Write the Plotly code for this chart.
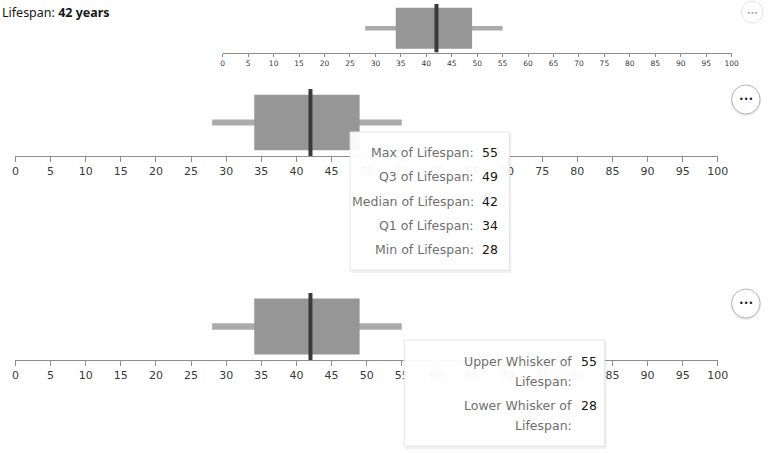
import plotly.graph_objects as go

W, H = 776, 453

metric = "Lifespan"
headline_value = 42
headline_unit = "years"
stat_names = ["Max", "Q3", "Median", "Q1", "Min"]
stat_values = [55, 49, 42, 34, 28]
whisker_names = ["Upper Whisker", "Lower Whisker"]
whisker_values = [55, 28]
tick_values = list(range(0, 101, 5))

vmax, q3, med, q1, vmin = stat_values


def px(x):
    return x / W


def py(y):
    return 1 - y / H


# three copies of the same box chart, in pixel boxes (left, right, top, axis line)
panels = [
    dict(x0=223.5, x1=741, top=4, base=52.5, font=7.5, whisk=4.7, box=41, ticklen=3),
    dict(x0=12.7, x1=727, top=89, base=156, font=11, whisk=6, box=55.5, ticklen=5),
    dict(x0=12.7, x1=727, top=293, base=360, font=11, whisk=6.5, box=56, ticklen=5),
]

fig = go.Figure()
layout_axes = {}
for i, p in enumerate(panels, start=1):
    s = "" if i == 1 else str(i)
    h = p["base"] - p["top"]
    # whisker (min..max) under the box
    fig.add_trace(go.Bar(
        y=[0.5], x=[vmax - vmin], base=[vmin], orientation="h",
        width=p["whisk"] / h, marker=dict(color="#ababab", line=dict(width=0)),
        xaxis="x" + s, yaxis="y" + s, hoverinfo="skip", showlegend=False))
    # box q1..q3
    fig.add_trace(go.Bar(
        y=[0.5], x=[q3 - q1], base=[q1], orientation="h",
        width=p["box"] / h, marker=dict(color="#969696", line=dict(width=0)),
        xaxis="x" + s, yaxis="y" + s, hoverinfo="skip", showlegend=False))
    # median
    fig.add_trace(go.Scatter(
        x=[med, med], y=[0, 1], mode="lines",
        line=dict(color="#3a3a3a", width=4),
        xaxis="x" + s, yaxis="y" + s, hoverinfo="skip", showlegend=False))

    layout_axes["xaxis" + s] = dict(
        domain=[px(p["x0"]), px(p["x1"])], range=[0, 100], anchor="y" + s,
        tickvals=tick_values, ticks="outside", ticklen=p["ticklen"],
        tickcolor="#8d8d8d", showline=True, linecolor="#8d8d8d", linewidth=1,
        showgrid=False, zeroline=False, fixedrange=True,
        tickfont=dict(family="DejaVu Sans", size=p["font"], color="#393939"))
    layout_axes["yaxis" + s] = dict(
        domain=[py(p["base"]), py(p["top"])], range=[0, 1], anchor="x" + s,
        visible=False, fixedrange=True)

shapes = []
annotations = []

# headline
annotations.append(dict(
    x=px(0), y=py(12), xref="paper", yref="paper", xanchor="left", yanchor="middle",
    text=f"{metric}: <b>{headline_value} {headline_unit}</b>", showarrow=False,
    xshift=-3, font=dict(family="Noto Sans", size=12.5, color="#161616")))


def tooltip(x0, y0, x1, y1):
    shapes.append(dict(type="rect", xref="paper", yref="paper",
                       x0=px(x0 + 1), x1=px(x1 + 2), y0=py(y1 + 3), y1=py(y0 + 1),
                       fillcolor="rgba(0,0,0,0.06)", line=dict(width=0), layer="above"))
    shapes.append(dict(type="rect", xref="paper", yref="paper",
                       x0=px(x0), x1=px(x1), y0=py(y1), y1=py(y0),
                       fillcolor="rgba(255,255,255,0.95)",
                       line=dict(color="#e4e4e4", width=1), layer="above"))


def tip_text(x, y, text, color, anchor):
    annotations.append(dict(
        x=px(x), y=py(y), xref="paper", yref="paper", xanchor=anchor, yanchor="middle",
        text=text, showarrow=False,
        font=dict(family="DejaVu Sans", size=12.5, color=color)))


# tooltip over the box
tooltip(353, 132, 515, 270)
for k, (name, val) in enumerate(zip(stat_names, stat_values)):
    yy = 152.7 + k * 24.2
    tip_text(481, yy, f"{name} of {metric}:", "#6f6f6f", "right")
    tip_text(485, yy, str(val), "#161616", "left")

# tooltip over the whisker
tooltip(408, 340, 612, 446)
for k, (name, val) in enumerate(zip(whisker_names, whisker_values)):
    yy = 361 + k * 44.7
    tip_text(581, yy, f"{name} of", "#6f6f6f", "right")
    tip_text(581, yy + 20, f"{metric}:", "#6f6f6f", "right")
    tip_text(586, yy, str(val), "#161616", "left")


def button(cx, cy, r, border, dot_color, dot_size, shadow):
    if shadow:
        shapes.append(dict(type="circle", xref="paper", yref="paper",
                           x0=px(cx - r - 1), x1=px(cx + r + 1),
                           y0=py(cy + r + 2), y1=py(cy - r),
                           fillcolor="rgba(0,0,0,0.08)", line=dict(width=0), layer="above"))
    shapes.append(dict(type="circle", xref="paper", yref="paper",
                       x0=px(cx - r), x1=px(cx + r), y0=py(cy + r), y1=py(cy - r),
                       fillcolor="white", line=dict(color=border, width=1), layer="above"))
    annotations.append(dict(
        x=px(cx), y=py(cy), xref="paper", yref="paper", xanchor="center", yanchor="middle",
        text="•••", showarrow=False,
        font=dict(family="DejaVu Sans", size=dot_size, color=dot_color)))


button(762, 12, 11, "#e2e2e2", "#8d8d8d", 6, False)
button(755.5, 99.5, 14.5, "#b5b5b5", "#161616", 8, True)
button(755.5, 303.5, 14.5, "#b5b5b5", "#161616", 8, True)

fig.update_layout(
    width=W, height=H,
    margin=dict(l=0, r=0, t=0, b=0),
    paper_bgcolor="white", plot_bgcolor="white",
    barmode="overlay", showlegend=False,
    shapes=shapes, annotations=annotations,
    **layout_axes,
)

# no body margin and no scrollbars, so the figure sits at the window's corner
fig.write_html("out.html", config={"displayModeBar": False},
               post_script="document.body.style.margin='0';"
                           "document.body.style.overflow='hidden';")
